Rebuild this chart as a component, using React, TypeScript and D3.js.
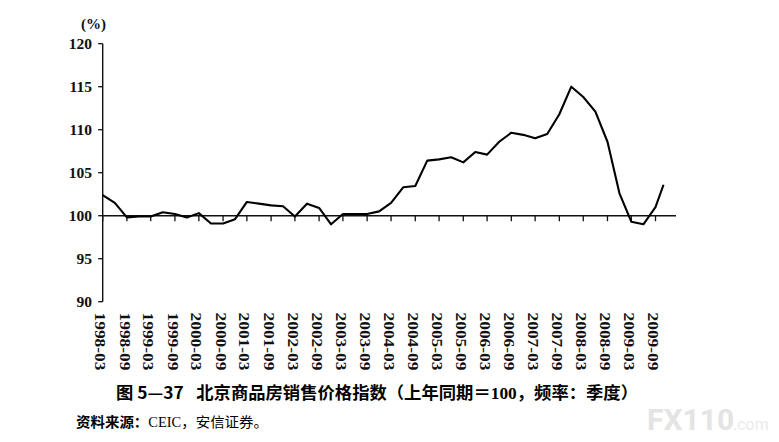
import React from "react";
import * as d3 from "d3";

const periods = [
  "1998-03", "1998-06", "1998-09", "1998-12",
  "1999-03", "1999-06", "1999-09", "1999-12",
  "2000-03", "2000-06", "2000-09", "2000-12",
  "2001-03", "2001-06", "2001-09", "2001-12",
  "2002-03", "2002-06", "2002-09", "2002-12",
  "2003-03", "2003-06", "2003-09", "2003-12",
  "2004-03", "2004-06", "2004-09", "2004-12",
  "2005-03", "2005-06", "2005-09", "2005-12",
  "2006-03", "2006-06", "2006-09", "2006-12",
  "2007-03", "2007-06", "2007-09", "2007-12",
  "2008-03", "2008-06", "2008-09", "2008-12",
  "2009-03", "2009-06", "2009-09", "2009-11",
];

const priceIndex = [
  102.4, 101.5, 99.8, 99.9,
  99.9, 100.4, 100.2, 99.8,
  100.3, 99.1, 99.1, 99.6,
  101.6, 101.4, 101.2, 101.1,
  99.9, 101.4, 100.9, 99.0,
  100.2, 100.2, 100.2, 100.5,
  101.5, 103.3, 103.45, 106.4,
  106.55, 106.8, 106.2, 107.4,
  107.1, 108.6, 109.65, 109.4,
  109.0, 109.5, 111.8, 115.0,
  113.8, 112.1, 108.6, 102.6,
  99.3, 99.0, 101.0, 103.6,
];

const tickLabels = [
  "1998-03", "1998-09", "1999-03", "1999-09", "2000-03", "2000-09",
  "2001-03", "2001-09", "2002-03", "2002-09", "2003-03", "2003-09",
  "2004-03", "2004-09", "2005-03", "2005-09", "2006-03", "2006-09",
  "2007-03", "2007-09", "2008-03", "2008-09", "2009-03", "2009-09",
];

const yTicks = [90, 95, 100, 105, 110, 115, 120];

const unitLabel = "(%)";
const titleParts = [
  { t: "图 5—37", f: "cjk" },
  { t: "\u2002 北京商品房销售价格指数（上年同期＝", f: "cjk" },
  { t: "100", f: "serif" },
  { t: "，频率：季度）", f: "cjk" },
];
const sourceParts = [
  { t: "资料来源：", f: "cjkb" },
  { t: "CEIC", f: "serif" },
  { t: "，安信证券。", f: "cjk" },
];

const SERIF = "'Liberation Serif', 'Times New Roman', serif";
const CJK = "'Noto Sans CJK SC', sans-serif";

export default function App() {
  const parse = d3.timeParse("%Y-%m");
  const x = d3
    .scaleTime()
    .domain([parse(tickLabels[0]) as Date, parse(tickLabels[tickLabels.length - 1]) as Date])
    .range([102.7, 655.5]);
  const y = d3.scaleLinear().domain([90, 120]).range([301.7, 43.7]);

  const line = d3
    .line<number>()
    .x((_, i) => x(parse(periods[i]) as Date))
    .y((d) => y(d));

  const x0 = x.range()[0];
  const baseY = y(100);

  return (
    <svg
      width={779}
      height={442}
      style={{ position: "absolute", left: 0, top: 0, background: "#fff" }}
    >
      <rect x={0} y={0} width={779} height={442} fill="#fff" />

      {/* watermark */}
      <text x={647} y={430} fontFamily="Roboto, sans-serif" fontWeight="bold" fontSize={30} fill="#e4e4e4">
        FX110
      </text>
      <text x={733} y={430} fontFamily="Roboto, sans-serif" fontSize={16} fill="#ebebeb">
        .com
      </text>

      {/* unit */}
      <text x={81} y={29} fontFamily={SERIF} fontWeight="bold" fontSize={15} fill="#111">
        {unitLabel}
      </text>

      {/* y axis */}
      <line x1={x0} x2={x0} y1={y(120)} y2={y(90)} stroke="#111" strokeWidth={1.4} />
      {yTicks.map((t) => (
        <g key={t}>
          <line x1={x0 - 4.5} x2={x0} y1={y(t)} y2={y(t)} stroke="#111" strokeWidth={1.3} />
          <text
            x={92}
            y={y(t) + 5}
            textAnchor="end"
            fontFamily={SERIF}
            fontWeight="bold"
            fontSize={15.5}
            fill="#111"
          >
            {t}
          </text>
        </g>
      ))}

      {/* 100 reference axis */}
      <line x1={x0} x2={676} y1={baseY} y2={baseY} stroke="#111" strokeWidth={1.4} />
      {tickLabels.map((lab) => {
        const tx = x(parse(lab) as Date);
        return (
          <g key={lab}>
            <line x1={tx} x2={tx} y1={baseY} y2={baseY + 5.5} stroke="#111" strokeWidth={1.3} />
            <text
              transform={`translate(${tx - 2.4},312.5) rotate(90)`}
              dominantBaseline="central"
              fontFamily={SERIF}
              fontWeight="bold"
              fontSize={15}
              textLength={58}
              lengthAdjust="spacingAndGlyphs"
              fill="#111"
            >
              {lab}
            </text>
          </g>
        );
      })}

      {/* series */}
      <path
        d={line(priceIndex) || ""}
        fill="none"
        stroke="#000"
        strokeWidth={2.1}
        strokeLinejoin="round"
      />

      {/* title */}
      <text
        x={116}
        y={399}
        fontSize={16.5}
        fontWeight="bold"
        fill="#000"
        textLength={522}
        lengthAdjust="spacingAndGlyphs"
      >
        {titleParts.map((p, i) => (
          <tspan key={i} fontFamily={p.f === "serif" ? SERIF : CJK}>
            {p.t}
          </tspan>
        ))}
      </text>

      {/* source */}
      <text x={76} y={427} fontSize={14} fill="#000" textLength={192} lengthAdjust="spacingAndGlyphs">
        {sourceParts.map((p, i) => (
          <tspan
            key={i}
            fontFamily={p.f === "serif" ? SERIF : CJK}
            fontWeight={p.f === "cjkb" ? "bold" : "normal"}
          >
            {p.t}
          </tspan>
        ))}
      </text>
    </svg>
  );
}
